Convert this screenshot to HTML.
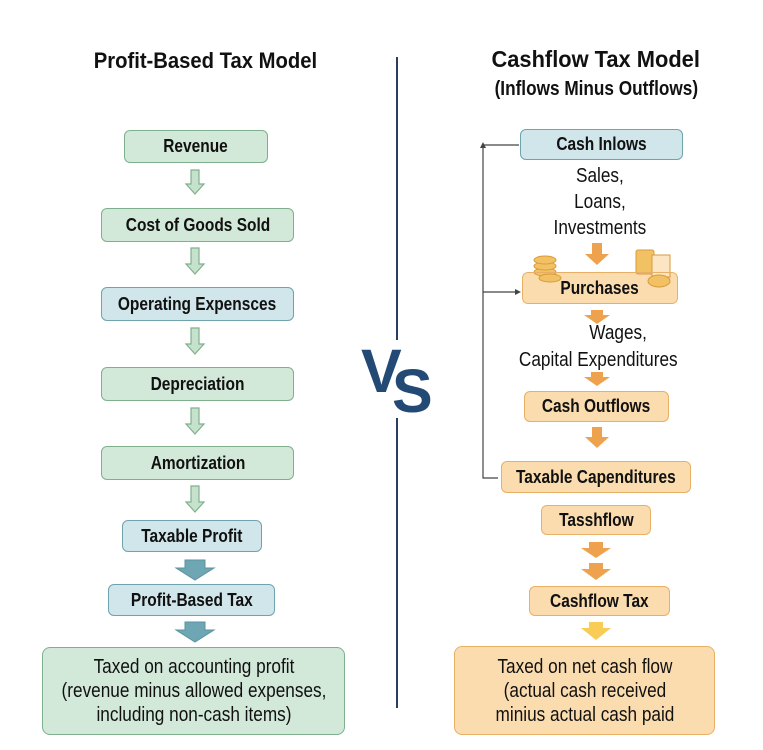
<!DOCTYPE html>
<html><head><meta charset="utf-8"><style>
body{margin:0;width:763px;height:750px;background:#fff;position:relative;overflow:hidden;font-family:"Liberation Sans",sans-serif;}
.b{position:absolute;box-sizing:border-box;border-radius:6px;display:flex;align-items:center;justify-content:center;font-size:18px;font-weight:bold;color:#111;white-space:nowrap;}
.b span,.t span.s{display:inline-block;transform:scaleX(0.86);}
.g{background:#d2e8d8;border:1.5px solid #7fb08e;}
.bl{background:#d0e6ea;border:1.5px solid #6fa3ad;}
.o{background:#fbdcae;border:1.5px solid #e8b066;}
.t{position:absolute;text-align:center;color:#111;white-space:nowrap;}
.big{font-size:20px;font-weight:normal;line-height:24px;text-align:center;border-radius:8px;}
.vs{position:absolute;font-size:61px;line-height:60px;font-weight:bold;color:#234a75;}
svg{position:absolute;left:0;top:0;}
</style></head><body>
<div class="t" style="left:40px;width:330px;top:48px;font-size:22px;font-weight:bold;"><span class="s" style="transform:scaleX(0.92)">Profit-Based Tax Model</span></div>
<div class="t" style="left:440px;width:312px;top:46px;font-size:23px;font-weight:bold;"><span class="s" style="transform:scaleX(0.95)">Cashflow Tax Model</span></div>
<div class="t" style="left:440px;width:312px;top:78px;font-size:20px;font-weight:bold;"><span class="s">(Inflows Minus Outflows)</span></div>

<div class="b g" style="left:124px;top:130px;width:144px;height:33px;"><span>Revenue</span></div>
<div class="b g" style="left:101px;top:208px;width:193px;height:34px;"><span>Cost of Goods Sold</span></div>
<div class="b bl" style="left:101px;top:287px;width:193px;height:34px;"><span>Operating Expensces</span></div>
<div class="b g" style="left:101px;top:367px;width:193px;height:34px;"><span>Depreciation</span></div>
<div class="b g" style="left:101px;top:446px;width:193px;height:34px;"><span>Amortization</span></div>
<div class="b bl" style="left:122px;top:520px;width:140px;height:32px;"><span>Taxable Profit</span></div>
<div class="b bl" style="left:108px;top:584px;width:167px;height:32px;"><span>Profit-Based Tax</span></div>
<div class="b g big" style="left:42px;top:647px;width:303px;height:88px;"><span>Taxed on accounting profit<br>(revenue minus allowed expenses,<br>including non-cash items)</span></div>

<svg width="763" height="750">
<line x1="397" y1="57" x2="397" y2="340" stroke="#2a3f5f" stroke-width="2"/>
<line x1="397" y1="418" x2="397" y2="708" stroke="#2a3f5f" stroke-width="2"/>
<g fill="#c6e2cc" stroke="#7fb08e" stroke-width="1.2">
<path d="M191 170h8v14h5l-9 10-9-10h5z"/>
<path d="M191 248h8v16h5l-9 10-9-10h5z"/>
<path d="M191 328h8v16h5l-9 10-9-10h5z"/>
<path d="M191 408h8v16h5l-9 10-9-10h5z"/>
<path d="M191 486h8v16h5l-9 10-9-10h5z"/>
</g>
<g fill="#6fa6b3" stroke="#5b93a0" stroke-width="1">
<path d="M185 560h20v8h9l-19 12-19-12h9z"/>
<path d="M185 622h20v8h9l-19 12-19-12h9z"/>
</g>
<g fill="#eea24e">
<path d="M592 243h10v11h7l-12 11-12-11h7z"/>
<path d="M591 310h12v5h7l-13 9-13-9h7z"/>
<path d="M591 372h12v5h7l-13 9-13-9h7z"/>
<path d="M592 427h10v10h7l-12 11-12-11h7z"/>
<path d="M589 542h14v6h8l-15 10-15-10h8z"/>
<path d="M589 563h14v6h8l-15 11-15-11h8z"/>
</g>
<path d="M589 622h14v6h8l-15 12-15-12h8z" fill="#f8cc55"/>
<g stroke="#444" stroke-width="1.2" fill="none">
<path d="M519 145H483V478h15"/>
<path d="M483 292h35"/>
</g>
<path d="M483 142l-3 6h6z M521 292l-6-3v6z" fill="#444"/>
<g fill="#f2c163" stroke="#d89a3a" stroke-width="1">
<ellipse cx="545" cy="272" rx="11" ry="4"/><ellipse cx="545" cy="266" rx="11" ry="4"/><ellipse cx="545" cy="260" rx="11" ry="4"/>
<ellipse cx="550" cy="278" rx="11" ry="4"/>
<rect x="636" y="250" width="18" height="24" rx="2"/>
<rect x="652" y="255" width="18" height="22" fill="#fbe5c2"/>
<ellipse cx="659" cy="281" rx="11" ry="6"/>
</g>
</svg>

<div class="vs" style="left:361px;top:341px;">V</div>
<div class="vs" style="left:392px;top:361px;">S</div>

<div class="b bl" style="left:520px;top:129px;width:163px;height:31px;"><span>Cash Inlows</span></div>
<div class="t" style="left:520px;width:160px;top:163px;font-size:20px;line-height:26px;"><span class="s">Sales,<br>Loans,<br>Investments</span></div>
<div class="b o" style="left:522px;top:272px;width:156px;height:32px;background:transparent;"><span>Purchases</span></div>
<div class="t" style="left:448px;width:300px;top:320px;font-size:20px;line-height:27px;"><span class="s"><span style="padding-left:46px">Wages,</span><br>Capital Expenditures</span></div>
<div class="b o" style="left:524px;top:391px;width:145px;height:31px;"><span>Cash Outflows</span></div>
<div class="b o" style="left:501px;top:461px;width:190px;height:32px;"><span>Taxable Capenditures</span></div>
<div class="b o" style="left:541px;top:505px;width:110px;height:30px;"><span>Tasshflow</span></div>
<div class="b o" style="left:529px;top:586px;width:141px;height:30px;"><span>Cashflow Tax</span></div>
<div class="b o big" style="left:454px;top:646px;width:261px;height:89px;"><span>Taxed on net cash flow<br>(actual cash received<br>minius actual cash paid</span></div>
<div style="position:absolute;left:523px;top:273px;width:154px;height:30px;background:#fbdcae;border-radius:5px;z-index:-1;"></div>
</body></html>
